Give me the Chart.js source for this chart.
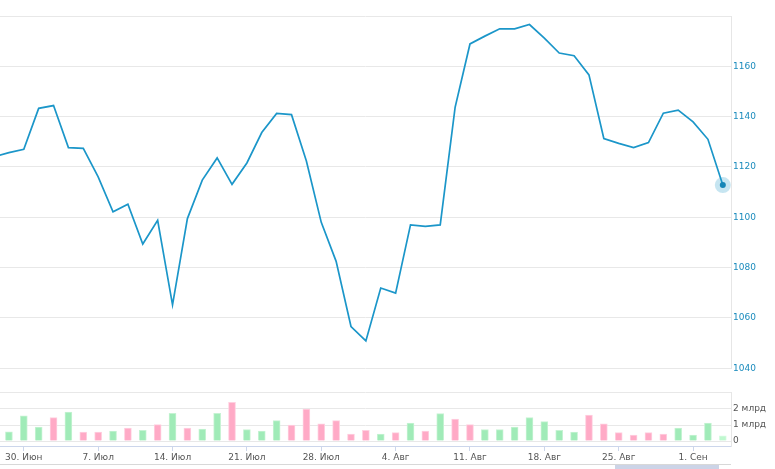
<!DOCTYPE html>
<html>
<head>
<meta charset="utf-8">
<script src="https://cdn.jsdelivr.net/npm/chart.js@4/dist/chart.umd.min.js"></script>
<style>
  body { margin: 0; background: #fff; }
  #wrap { position: relative; width: 775px; height: 469px; overflow: hidden; }
  #top { position: absolute; left: 0; top: 0; }
  #bottom { position: absolute; left: 0; top: 380px; }
  #nav { position: absolute; left: 0; top: 464px; width: 731px; height: 5px; border-top: 1px solid #d8d8d8; }
  #navSel { position: absolute; left: 615px; top: 465px; width: 104px; height: 4px; background: #ccd4e7; }
</style>
</head>
<body>
<div id="wrap">
  <canvas id="top" width="775" height="380"></canvas>
  <canvas id="bottom" width="775" height="89"></canvas>
  <div id="nav"></div>
  <div id="navSel"></div>
</div>
<script>
// index -1 is the day before the first bar (only the line enters from the left edge)
const prices = [1124.1,
  1125.7, 1127.0, 1143.3, 1144.4, 1127.7, 1127.4, 1116.1, 1102.2, 1105.2, 1089.4,
  1098.8, 1065.2, 1099.5, 1114.8, 1123.6, 1113.1, 1121.6, 1133.7, 1141.3, 1140.8,
  1122.4, 1098.0, 1082.5, 1056.6, 1050.9, 1071.9, 1069.9, 1097.0, 1096.4, 1097.0,
  1143.7, 1168.9, 1172.0, 1174.9, 1174.9, 1176.6, 1171.2, 1165.3, 1164.2, 1156.6,
  1131.3, 1129.4, 1127.7, 1129.7, 1141.4, 1142.6, 1137.9, 1131.0, 1112.8];

// volume, млрд
const volumes = [0.58, 1.58, 0.875, 1.46, 1.81, 0.56, 0.56, 0.62, 0.81, 0.67,
  1.02, 1.73, 0.81, 0.75, 1.73, 2.42, 0.71, 0.62, 1.27, 1.0,
  2.0, 1.08, 1.27, 0.44, 0.67, 0.44, 0.52, 1.12, 0.62, 1.71,
  1.37, 1.02, 0.71, 0.71, 0.875, 1.46, 1.21, 0.67, 0.56, 1.62,
  1.08, 0.52, 0.375, 0.52, 0.44, 0.81, 0.375, 1.12, 0.33];
const volDir = "uuududdudududuuduuuddddddudududduuuuuuudddddduuudddu".split("");

const weekTicks = [1, 6, 11, 16, 21, 26, 31, 36, 41, 46];
const weekLabels = ["30. Июн", "7. Июл", "14. Июл", "21. Июл", "28. Июл",
  "4. Авг", "11. Авг", "18. Авг", "25. Авг", "1. Сен"];

const xMin = -0.6, xMax = 48.55;
const last = volumes.length - 1;
const font = { family: "DejaVu Sans", size: 9 };

const linePts = prices.map((v, i) => ({ x: i - 1, y: v }));
const haloPts = linePts.filter(p => p.x === last);

new Chart(document.getElementById("top"), {
  type: "line",
  data: {
    datasets: [
      { data: haloPts, showLine: false, pointRadius: 8, pointBackgroundColor: "rgba(27,150,201,0.25)", pointBorderWidth: 0 },
      { data: linePts, borderColor: "#1b96c9", borderWidth: 1.7, tension: 0,
        pointRadius: linePts.map(p => p.x === last ? 3 : 0),
        pointBackgroundColor: "#137fb0", pointBorderWidth: 0 }
    ]
  },
  options: {
    responsive: false, animation: false,
    layout: { autoPadding: false, padding: { top: 16, bottom: 11.7, left: 0, right: 0 } },
    plugins: { legend: { display: false }, tooltip: { enabled: false } },
    scales: {
      x: { type: "linear", min: xMin, max: xMax, display: false },
      y: {
        position: "right", min: 1040, max: 1180,
        afterFit: s => { s.width = 44; },
        grid: { color: "#e8e8e8", drawTicks: false },
        border: { display: true, color: "#e6e6e6" },
        ticks: { stepSize: 20, padding: 2, color: "#1a8bbd", font,
          callback: v => v === 1180 ? "" : v }
      }
    }
  }
});

new Chart(document.getElementById("bottom"), {
  type: "bar",
  data: {
    datasets: [{
      data: volumes.map((v, i) => ({ x: i, y: v })),
      barThickness: 7, borderWidth: 1,
      backgroundColor: volumes.map((v, i) => i === last ? "#bff8cf" : volDir[i] === "u" ? "#a0ebb8" : "#ffaac6"),
      borderColor: volumes.map((v, i) => i === last ? "#d8fbe2" : volDir[i] === "u" ? "#c6f3d3" : "#ffd0e0")
    }]
  },
  options: {
    responsive: false, animation: false,
    layout: { autoPadding: false, padding: { top: 12, bottom: 0, left: 0, right: 0 } },
    plugins: { legend: { display: false }, tooltip: { enabled: false } },
    scales: {
      x: {
        type: "linear", min: xMin, max: xMax, offset: false,
        afterFit: s => { s.height = 23; },
        afterBuildTicks: s => { s.ticks = weekTicks.map(v => ({ value: v })); },
        grid: { offset: false, drawOnChartArea: false, tickLength: 5, tickColor: "#ccd6eb" },
        border: { color: "#ccd6eb" },
        ticks: { autoSkip: false, maxRotation: 0, padding: 1, color: "#555", font,
          callback: v => weekLabels[weekTicks.indexOf(v)] }
      },
      y: {
        position: "right", min: -0.31, max: 3.06,
        afterFit: s => { s.width = 44; },
        afterBuildTicks: s => { s.ticks = [0, 1, 2, 3].map(v => ({ value: v })); },
        grid: { color: "#e8e8e8", drawTicks: false },
        border: { display: true, color: "#e6e6e6" },
        ticks: { padding: 2, color: "#555", font,
          callback: v => v === 3 ? "" : v === 0 ? "0" : v + " млрд" }
      }
    }
  }
});
</script>
</body>
</html>
